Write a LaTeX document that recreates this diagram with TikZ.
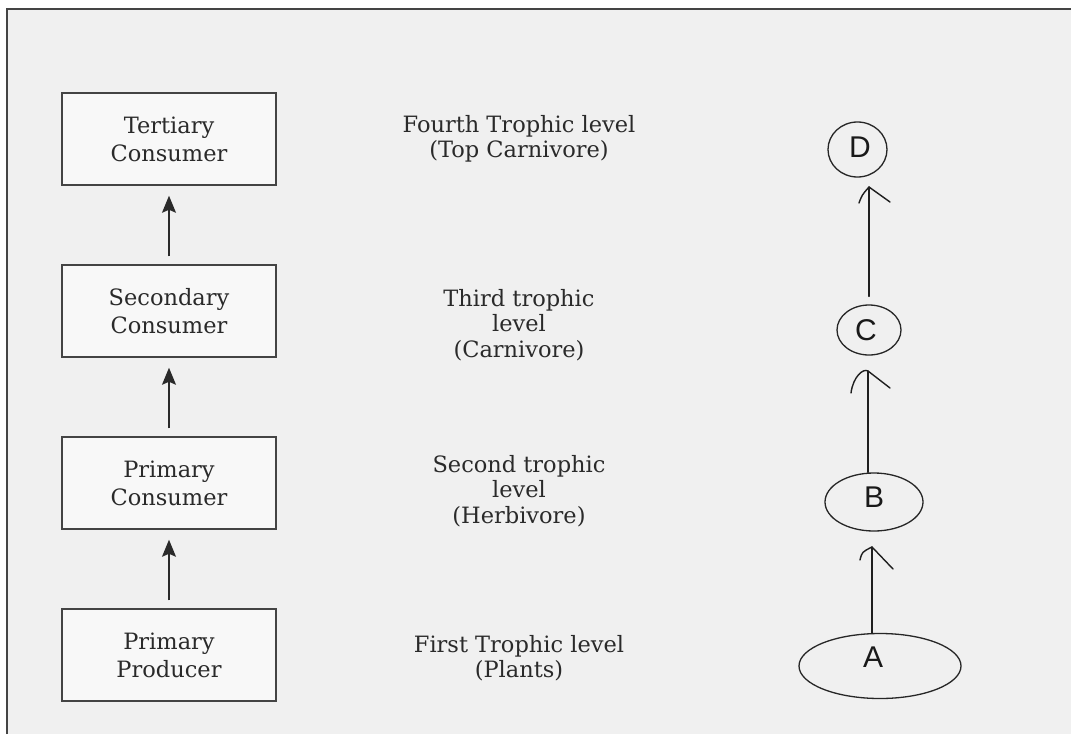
\documentclass[tikz,border=0pt]{standalone}
\usepackage{fontspec}
\setmainfont{DejaVu Serif}
\newfontfamily\sansf{Liberation Sans}
\usetikzlibrary{shapes.geometric,arrows.meta}
\definecolor{bg}{HTML}{F0F0F0}
\definecolor{boxfill}{HTML}{F8F8F8}
\definecolor{edge}{HTML}{444444}
\definecolor{ink}{HTML}{2A2A2A}
\begin{document}
\begin{tikzpicture}[x=1pt,y=-1pt,
  stagebox/.style={draw=edge,fill=boxfill,line width=1.5pt,minimum width=214pt,minimum height=92pt,inner sep=0pt,align=center,text=ink,font=\fontsize{22.5}{28}\selectfont},
  levtext/.style={align=center,text=ink,font=\fontsize{22.5}{25.5}\selectfont,inner sep=0pt},
  barrow/.style={draw=ink,line width=1.3pt,-{Stealth[length=17pt,width=14pt,inset=3pt]},shorten <=8pt,shorten >=10pt},
  ell/.style={ellipse,draw=black!85,line width=1.3pt,inner sep=0pt},
  letter/.style={inner sep=0pt,font=\sansf\fontsize{30}{30}\selectfont,text=black!90},
  hand/.style={draw=black!88,line width=1.4pt,line cap=round,line join=round}]
\useasboundingbox (0,0) rectangle (1071,734);
\fill[white] (0,0) rectangle (1071,734);
\fill[bg] (7,9) rectangle (1071,734);
\draw[edge,line width=1.6pt] (7,734) -- (7,9) -- (1071,9);
% left boxes
\node[stagebox] (t4) at (169,139) {Tertiary\\Consumer};
\node[stagebox] (t3) at (169,311) {Secondary\\Consumer};
\node[stagebox] (t2) at (169,483) {Primary\\Consumer};
\node[stagebox] (t1) at (169,655) {Primary\\Producer};
\draw[barrow] (t1) -- (t2);
\draw[barrow] (t2) -- (t3);
\draw[barrow] (t3) -- (t4);
% middle texts
\node[levtext] (l4) at (519,139) {Fourth Trophic level\\(Top Carnivore)};
\node[levtext] (l3) at (519,325) {Third trophic\\level\\(Carnivore)};
\node[levtext] (l2) at (519,491) {Second trophic\\level\\(Herbivore)};
\node[levtext] (l1) at (519,658) {First Trophic level\\(Plants)};
% right ellipses
\node[ell,minimum width=59pt,minimum height=55pt] (D) at (857.5,149.5) {};
\node[ell,minimum width=64pt,minimum height=50pt] (C) at (869,330) {};
\node[ell,minimum width=98pt,minimum height=58pt] (B) at (874,502) {};
\node[ell,minimum width=162pt,minimum height=65pt] (A) at (880,666) {};
\node[letter] (Dl) at (860,147) {D};
\node[letter] (Cl) at (866,330) {C};
\node[letter] (Bl) at (874,497) {B};
\node[letter] (Al) at (873,657) {A};
% hand-drawn arrows
\coordinate (tAB) at (872,547);
\coordinate (tBC) at (868,371);
\coordinate (tCD) at (869,187);
\draw[hand] (A.north -| tAB) -- (tAB);
\draw[hand] (860,560) .. controls (862,552) .. (tAB) -- (893,569);
\draw[hand] (B.north -| tBC) -- (tBC);
\draw[hand] (851,393) .. controls (853,377) and (863,368) .. (tBC) -- (890,388);
\draw[hand,shorten <=8pt] (C.north -| tCD) -- (tCD);
\draw[hand] (859,203) .. controls (862,195) .. (tCD) -- (890,202);
\end{tikzpicture}
\end{document}
